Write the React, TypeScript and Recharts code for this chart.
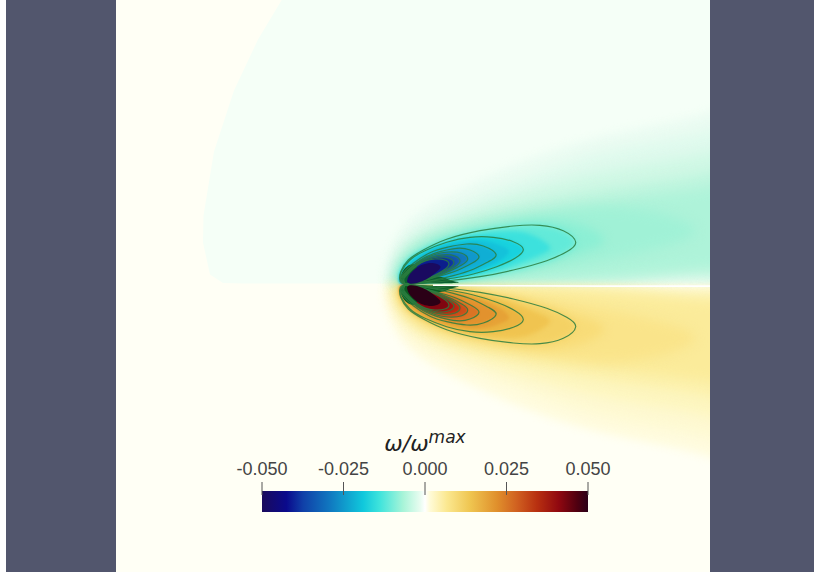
import { LineChart, Line, XAxis, YAxis, ReferenceArea } from "recharts";

type Pt = [number, number];

// everything, x along the wake, y away from the axis
const wakeBackground: Pt[] = [
  [-1.18, 2.9], [-1.45, 2.45], [-1.69, 1.94], [-1.89, 1.33], [-1.995, 0.69], [-2.0, 0.42],
  [-1.93, 0.1], [-1.8, 0.015], [-1.6, 0.01], [3.2, 0.01], [3.2, 2.9],
];

const far1: Pt[] = [
  [-0.19, 0.105], [-0.14, 0.31], [0.07, 0.645], [0.57, 0.955], [1.25, 1.255], [2.1, 1.51], [3.07, 1.73],
  [3.6, 1.82], [3.95, 1.0], [3.6, 0.06], [3.07, 0.02], [2.2, 0.012], [1.2, 0.01], [0.3, 0.008], [-0.12, 0.0], [-0.19, 0.105],
];
const far2: Pt[] = [
  [-0.14, 0.06], [-0.08, 0.3], [0.12, 0.56], [0.6, 0.82], [1.3, 1.1], [2.1, 1.35], [3.07, 1.545],
  [3.6, 1.62], [3.95, 0.9], [3.6, 0.08], [3.07, 0.04], [2.2, 0.025], [1.2, 0.016], [0.3, 0.01], [-0.1, 0.0], [-0.14, 0.06],
];
const far3: Pt[] = [
  [-0.11, 0.06], [-0.05, 0.26], [0.16, 0.5], [0.65, 0.74], [1.35, 0.97], [2.2, 1.17], [3.07, 1.33],
  [3.6, 1.4], [3.95, 0.8], [3.6, 0.12], [3.07, 0.075], [2.2, 0.045], [1.2, 0.025], [0.3, 0.012], [-0.08, 0.0], [-0.11, 0.06],
];
const far4: Pt[] = [
  [-0.09, 0.06], [-0.03, 0.24], [0.18, 0.46], [0.7, 0.66], [1.4, 0.84], [2.3, 1.0], [3.07, 1.13],
  [3.6, 1.2], [3.95, 0.7], [3.6, 0.17], [3.07, 0.12], [2.2, 0.07], [1.2, 0.035], [0.3, 0.012], [-0.06, 0.0], [-0.09, 0.06],
];
const far5: Pt[] = [
  [-0.07, 0.06], [-0.02, 0.22], [0.2, 0.42], [0.72, 0.62], [1.45, 0.75], [2.4, 0.88], [3.07, 0.97],
  [3.5, 0.98], [3.85, 0.6], [3.5, 0.22], [3.07, 0.17], [2.2, 0.1], [1.2, 0.05], [0.3, 0.015], [-0.05, 0.0], [-0.07, 0.06],
];
const far6: Pt[] = [
  [-0.05, 0.06], [-0.01, 0.2], [0.22, 0.4], [0.75, 0.58], [1.5, 0.72], [2.3, 0.76], [2.92, 0.545],
  [2.4, 0.33], [1.6, 0.17], [0.8, 0.07], [0.2, 0.012], [-0.03, 0.0], [-0.05, 0.06],
];
const far7: Pt[] = [
  [-0.04, 0.06], [0.0, 0.17], [0.2, 0.36], [0.6, 0.52], [1.2, 0.64], [1.7, 0.62], [2.01, 0.445],
  [1.7, 0.29], [1.2, 0.15], [0.6, 0.06], [0.15, 0.012], [-0.02, 0.0], [-0.04, 0.06],
];

const contour1: Pt[] = [
  [-0.03, 0.06], [-0.023, 0.128], [0.053, 0.245], [0.203, 0.345], [0.437, 0.452], [0.77, 0.538], [1.103, 0.585],
  [1.37, 0.592], [1.603, 0.538], [1.727, 0.422], [1.637, 0.328], [1.437, 0.238], [1.103, 0.145], [0.77, 0.078],
  [0.437, 0.035], [0.17, 0.012], [0.02, 0.005], [-0.03, 0.06],
];
const between12: Pt[] = [
  [-0.03, 0.06], [-0.02, 0.128], [0.06, 0.245], [0.21, 0.342], [0.437, 0.437], [0.72, 0.505], [1.0, 0.53],
  [1.25, 0.51], [1.46, 0.39], [1.37, 0.295], [1.02, 0.16], [0.74, 0.09], [0.437, 0.045], [0.17, 0.016],
  [0.02, 0.005], [-0.03, 0.06],
];
const contour2: Pt[] = [
  [-0.03, 0.06], [-0.017, 0.128], [0.07, 0.245], [0.22, 0.338], [0.437, 0.422], [0.67, 0.472], [0.903, 0.472],
  [1.103, 0.428], [1.203, 0.352], [1.12, 0.262], [0.937, 0.178], [0.703, 0.105], [0.437, 0.055], [0.17, 0.02],
  [0.02, 0.005], [-0.03, 0.06],
];
const between23: Pt[] = [
  [-0.03, 0.06], [-0.01, 0.12], [0.09, 0.23], [0.25, 0.33], [0.44, 0.4], [0.66, 0.44], [0.85, 0.43],
  [1.0, 0.38], [1.06, 0.325], [0.98, 0.245], [0.82, 0.165], [0.6, 0.095], [0.35, 0.04], [0.02, 0.005], [-0.03, 0.06],
];
const contour3: Pt[] = [
  [-0.03, 0.06], [-0.003, 0.112], [0.103, 0.212], [0.27, 0.318], [0.437, 0.372], [0.637, 0.405], [0.803, 0.385],
  [0.93, 0.302], [0.853, 0.228], [0.703, 0.152], [0.503, 0.088], [0.27, 0.035], [0.02, 0.005], [-0.03, 0.06],
];
const contour4: Pt[] = [
  [-0.03, 0.06], [0.07, 0.162], [0.203, 0.262], [0.37, 0.328], [0.537, 0.362], [0.67, 0.345], [0.76, 0.278],
  [0.687, 0.212], [0.553, 0.145], [0.37, 0.085], [0.17, 0.032], [0.02, 0.005], [-0.03, 0.06],
];
const contour5: Pt[] = [
  [-0.02, 0.06], [0.06, 0.15], [0.17, 0.235], [0.32, 0.3], [0.453, 0.325], [0.587, 0.312], [0.647, 0.255], [0.587, 0.195],
  [0.453, 0.128], [0.303, 0.068], [0.15, 0.025], [0.02, 0.005], [-0.02, 0.06],
];
const contour6: Pt[] = [
  [-0.01, 0.06], [0.05, 0.13], [0.137, 0.205], [0.27, 0.27], [0.403, 0.297], [0.52, 0.285], [0.57, 0.235], [0.52, 0.178],
  [0.403, 0.112], [0.27, 0.062], [0.13, 0.022], [0.02, 0.005], [-0.01, 0.06],
];
const contour7: Pt[] = [
  [0.0, 0.06], [0.06, 0.13], [0.14, 0.195], [0.237, 0.245], [0.353, 0.275], [0.463, 0.262], [0.51, 0.218], [0.463, 0.162], [0.353, 0.105],
  [0.237, 0.055], [0.12, 0.02], [0.03, 0.005], [0.0, 0.06],
];
const contour8: Pt[] = [
  [0.01, 0.06], [0.07, 0.13], [0.14, 0.19], [0.22, 0.235], [0.32, 0.255], [0.42, 0.245], [0.46, 0.205], [0.42, 0.152], [0.32, 0.095],
  [0.17, 0.035], [0.03, 0.005], [0.01, 0.06],
];
const denseCore: Pt[] = [
  [-0.02, 0.06], [-0.01, 0.12], [0.04, 0.18], [0.11, 0.2], [0.15, 0.14], [0.13, 0.07], [0.2, 0.05], [0.32, 0.075],
  [0.42, 0.065], [0.5, 0.035], [0.56, 0.02], [0.45, 0.012], [0.3, 0.01], [0.1, 0.005], [0.01, 0.005], [-0.02, 0.06],
];
const core: Pt[] = [
  [0.04, 0.03], [0.06, 0.09], [0.12, 0.155], [0.2, 0.2], [0.29, 0.215], [0.36, 0.195], [0.37, 0.16],
  [0.31, 0.105], [0.23, 0.05], [0.14, 0.015], [0.07, 0.008], [0.04, 0.03],
];

const bandShapes = [far1, far2, far3, far4, far5, far6, far7, contour1, between12, contour2, between23, contour3, contour4, contour5, contour6, contour7, contour8, denseCore];
const upperColors = ["#ebfcf2", "#dffaed", "#d0f8e5", "#bef5de", "#aef3d9", "#a0f1d6", "#8cefd4", "#62ead9", "#3ce1dd", "#18d2de", "#14c2da", "#10aed4", "#1098cc", "#1278bc", "#1456ac", "#10369c", "#0c1e8c", "#0a6030"];
const lowerColors = ["#fffcdf", "#fef9d2", "#fdf6c0", "#fcf1ac", "#fbeb9a", "#fae48a", "#f8dc78", "#f4d164", "#f0c450", "#ebb440", "#e6a236", "#e2922e", "#da7424", "#cd4e1a", "#bb2a12", "#a5120f", "#800610", "#0a5a20"];
// softens the steps between neighbouring bands, px
const bandBlur = [4, 6, 6, 6, 6, 6, 5, 3, 2, 1.5, 1.5, 1.5, 1, 1, 1, 1, 1, 0.6];
const coreUpper = "#1a0a60";
const coreLower = "#2b0016";
const contourShapes = [contour1, contour2, contour3, contour4, contour5, contour6, contour7, contour8];

const wakeLine: Pt[] = [[0.3, -0.008], [1.0, -0.012], [2.0, -0.016], [3.1, -0.016]];

const barTicks = [-0.05, -0.025, 0, 0.025, 0.05];
const barStops = ["#1a0a5c", "#0a0a8c", "#1040a8", "#1078c0", "#10c8dc", "#40e4dc", "#a8f4d8", "#e8fcf0", "#ffffff", "#fffbd8", "#fbe890", "#efc550", "#e0902c", "#d06020", "#b83010", "#900810", "#500010", "#2b0018"];
const barOffsets = [0, 0.075, 0.126, 0.208, 0.31, 0.362, 0.433, 0.485, 0.5, 0.515, 0.567, 0.639, 0.72, 0.782, 0.843, 0.91, 0.966, 1];
const barRows = barTicks.map((v) => ({ v, y: 0 }));

const toRows = (shape: Pt[], sign: number) => shape.map(([x, y]) => ({ x, y: sign * y }));

function Title() {
  return (
    <text x={213} y={26} textAnchor="middle" fill="#222" fontFamily="DejaVu Sans">
      <tspan fontSize={22} fontStyle="italic">ω/ω</tspan>
      <tspan fontSize={17} fontStyle="italic" dy={-8}>max</tspan>
    </text>
  );
}

export default function App() {
  return (
    <div style={{ position: "absolute", left: 6, top: 0, width: 808, height: 572, background: "#52566d" }}>
      <div style={{ position: "absolute", left: 110, top: 0, width: 594, height: 572, background: "#fffff5", overflow: "hidden" }}>
        <LineChart width={594} height={572} margin={{ top: 0, right: 0, bottom: 0, left: 0 }}>
          <XAxis hide dataKey="x" type="number" domain={[-2.87, 3.07]} allowDataOverflow />
          <YAxis hide type="number" domain={[-2.875, 2.845]} allowDataOverflow />
          <Line data={toRows(wakeBackground, 1)} dataKey="y" type="linear" stroke="none" style={{ fill: "#f5fff7" }} dot={false} activeDot={false} isAnimationActive={false} />
          {bandShapes.flatMap((shape, i) => [
            <Line key={"up" + i} data={toRows(shape, 1)} dataKey="y" type="natural" stroke="none" style={{ fill: upperColors[i], filter: `blur(${bandBlur[i]}px)` }} dot={false} activeDot={false} isAnimationActive={false} />,
            <Line key={"lo" + i} data={toRows(shape, -1)} dataKey="y" type="natural" stroke="none" style={{ fill: lowerColors[i], filter: `blur(${bandBlur[i]}px)` }} dot={false} activeDot={false} isAnimationActive={false} />,
          ])}
          {contourShapes.map((shape, i) => (
            <Line key={"cu" + i} data={toRows(shape, 1)} dataKey="y" type="natural" stroke="#2a7d40" strokeOpacity={0.85} strokeWidth={1.2} dot={false} activeDot={false} isAnimationActive={false} />
          ))}
          {contourShapes.map((shape, i) => (
            <Line key={"cl" + i} data={toRows(shape, -1)} dataKey="y" type="natural" stroke="#2a7d40" strokeOpacity={0.85} strokeWidth={1.2} dot={false} activeDot={false} isAnimationActive={false} />
          ))}
          <Line data={toRows(core, 1)} dataKey="y" type="natural" stroke="none" style={{ fill: coreUpper }} dot={false} activeDot={false} isAnimationActive={false} />
          <Line data={toRows(core, -1)} dataKey="y" type="natural" stroke="none" style={{ fill: coreLower }} dot={false} activeDot={false} isAnimationActive={false} />
          <Line data={toRows(wakeLine, 1)} dataKey="y" type="linear" stroke="#ffffff" strokeWidth={1.6} dot={false} activeDot={false} isAnimationActive={false} />
        </LineChart>
        <div style={{ position: "absolute", left: 96, top: 425 }}>
          <LineChart width={426} height={88} data={barRows} margin={{ top: 30, right: 50, bottom: 1, left: 50 }}>
            <defs>
              <linearGradient id="barFill" x1="0" y1="0" x2="1" y2="0">
                {barStops.map((c, i) => (
                  <stop key={i} offset={barOffsets[i]} stopColor={c} />
                ))}
              </linearGradient>
            </defs>
            <XAxis
              dataKey="v"
              type="number"
              orientation="top"
              domain={[-0.05, 0.05]}
              ticks={barTicks}
              interval={0}
              axisLine={false}
              tickSize={13}
              tickMargin={7}
              tickLine={{ stroke: "#555" }}
              tickFormatter={(v: number) => v.toFixed(3)}
              tick={{ fontSize: 18, fontFamily: "Liberation Sans", fill: "#444" }}
              height={40}
              label={{ content: () => <Title /> }}
            />
            <YAxis hide type="number" domain={[0, 1]} />
            <ReferenceArea x1={-0.05} x2={0.05} y1={0} y2={1.235} ifOverflow="visible" fill="url(#barFill)" fillOpacity={1} stroke="none" />
            <Line dataKey="y" stroke="none" dot={false} activeDot={false} isAnimationActive={false} />
          </LineChart>
        </div>
      </div>
    </div>
  );
}
